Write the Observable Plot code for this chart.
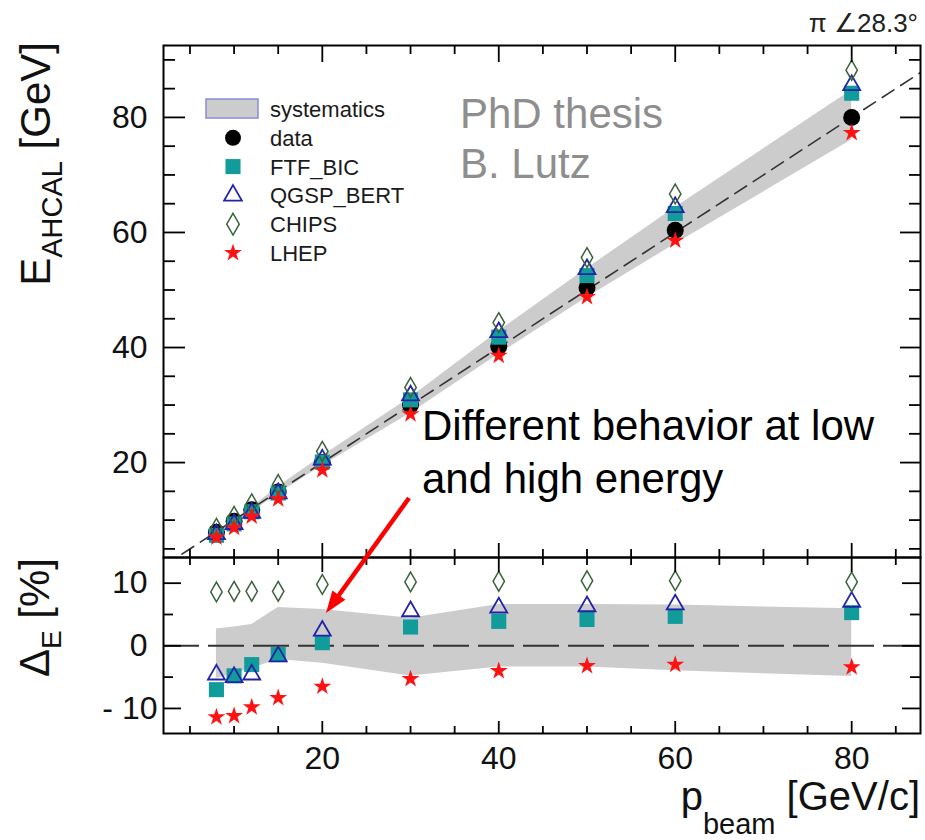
<!DOCTYPE html>
<html><head><meta charset="utf-8">
<script src="https://cdn.jsdelivr.net/npm/d3@7"></script>
<script src="https://cdn.jsdelivr.net/npm/@observablehq/plot@0.6"></script>
<style>
body{margin:0;background:#fff;}
#wrap{position:relative;width:925px;height:840px;overflow:hidden;}
#wrap > svg{position:absolute;left:0;}
</style></head><body><div id="wrap"></div>
<script>
// ---------- data ----------
const pbeam   = [8, 10, 12, 15, 20, 30, 40, 50, 60, 80];
// upper panel: E_AHCAL [GeV]
const eData   = [7.9, 9.8, 11.8, 14.9, 20.0, 30.0, 40.2, 50.4, 60.4, 80.0];
const eFTF    = [7.35, 9.33, 11.45, 14.7, 20.1, 30.9, 41.8, 52.5, 63.3, 84.2];
const eQGSP   = [7.54, 9.31, 11.26, 14.65, 20.5, 31.65, 42.65, 53.6, 64.4, 85.6];
const eCHIPS  = [8.58, 10.65, 12.83, 16.2, 21.96, 33.06, 44.34, 55.64, 66.7, 88.2];
const eLHEP   = [7.0, 8.7, 10.64, 13.66, 18.7, 28.4, 38.6, 48.8, 58.6, 77.3];
const sysHiE  = [8.11, 10.09, 12.2, 15.81, 21.16, 31.32, 42.85, 53.73, 64.33, 84.72];
const sysLoE  = [7.49, 9.36, 11.38, 14.57, 19.44, 28.56, 38.83, 48.69, 57.98, 76.08];
// lower panel: Delta_E [%]
const dFTF    = [-7.0, -4.8, -3.0, -1.4, 0.5, 3.0, 3.9, 4.2, 4.7, 5.3];
const dQGSP   = [-4.6, -5.0, -4.6, -1.7, 2.4, 5.5, 6.1, 6.3, 6.6, 7.0];
const dCHIPS  = [8.6, 8.7, 8.7, 8.7, 9.8, 10.2, 10.3, 10.4, 10.4, 10.2];
const dLHEP   = [-11.4, -11.2, -9.8, -8.3, -6.5, -5.3, -4.0, -3.2, -3.0, -3.4];
const sysUp   = [2.7, 3.0, 3.4, 6.1, 5.8, 4.4, 6.6, 6.6, 6.5, 5.9];
const sysDown = [-5.2, -4.5, -3.6, -2.2, -2.8, -4.8, -3.4, -3.4, -4.0, -4.9];
// axes
const xRange  = [2, 87.8];
const eRange  = [3.5, 92.5];
const dRange  = [-14, 14.1];
const xTicks  = [20, 40, 60, 80];
const xMinor  = [5, 10, 15, 25, 30, 35, 45, 50, 55, 65, 70, 75, 85];
const eTicks  = [20, 40, 60, 80];
const eMinor  = [5, 10, 15, 25, 30, 35, 45, 50, 55, 65, 70, 75, 85, 90];
const dTicks  = [-10, 0, 10];
const dMinor  = [-5, 5];
const legendLabels = ["systematics", "data", "FTF_BIC", "QGSP_BERT", "CHIPS", "LHEP"];

// ---------- build ----------
const font = '"Liberation Sans", Arial, Helvetica, sans-serif';
const wrap = document.getElementById("wrap");
const plotStyle = {fontFamily: font, fontSize: "32px", color: "#111", background: "transparent", overflow: "visible"};
const C = {ftf: "#129b9b", qgsp: "#2323a8", chips: "#3a633a", lhep: "#ff1212", band: "#cccccc"};
const SZ = {circle: 8.5, square: 8.5, triangle: 6.3, diamond: 6, star: 5.6};

const rows = pbeam.map((p, i) => ({
  p, data: eData[i], ftf: eFTF[i], qgsp: eQGSP[i], chips: eCHIPS[i], lhep: eLHEP[i],
  hi: sysHiE[i], lo: sysLoE[i],
  dftf: dFTF[i], dqgsp: dQGSP[i], dchips: dCHIPS[i], dlhep: dLHEP[i], up: sysUp[i], down: sysDown[i]
}));

function markers(k) {
  const m = [];
  if (k.data) m.push(Plot.dot(rows, {x: "p", y: k.data, symbol: "circle", r: SZ.circle, fill: "#000"}));
  m.push(Plot.dot(rows, {x: "p", y: k.ftf, symbol: "square", r: SZ.square, fill: C.ftf}));
  m.push(Plot.dot(rows, {x: "p", y: k.qgsp, symbol: "triangle", r: SZ.triangle, fill: "none", stroke: C.qgsp, strokeWidth: 1.8}));
  m.push(Plot.dot(rows, {x: "p", y: k.chips, symbol: "diamond", r: SZ.diamond, fill: "none", stroke: C.chips, strokeWidth: 1.5}));
  m.push(Plot.dot(rows, {x: "p", y: k.lhep, symbol: "star", r: SZ.star, fill: C.lhep}));
  return m;
}

function frameTicks(xMaj, xMin, yMaj, yMin, W, H, t) {
  const st = {stroke: "#000", strokeWidth: 1.8};
  return [
    Plot.tickX(xMaj, {x: d => d, insetBottom: H - t.xTop[0], ...st}),
    Plot.tickX(xMin, {x: d => d, insetBottom: H - t.xTop[1], ...st}),
    Plot.tickX(xMaj, {x: d => d, insetTop: H - t.xBot[0], ...st}),
    Plot.tickX(xMin, {x: d => d, insetTop: H - t.xBot[1], ...st}),
    Plot.tickY(yMaj, {y: d => d, insetRight: W - t.yL[0], ...st}),
    Plot.tickY(yMin, {y: d => d, insetRight: W - t.yL[1], ...st}),
    Plot.tickY(yMaj, {y: d => d, insetLeft: W - t.yR[0], ...st}),
    Plot.tickY(yMin, {y: d => d, insetLeft: W - t.yR[1], ...st})
  ];
}

const PW = 925 - 163 - 5;

const plotTop = Plot.plot({
  width: 925, height: 557, marginTop: 45, marginBottom: 0, marginLeft: 163, marginRight: 5,
  style: plotStyle,
  x: {domain: xRange, axis: null},
  y: {domain: eRange, ticks: eTicks, tickSize: 0, tickPadding: 16, label: null},
  marks: [
    Plot.areaY(rows, {x: "p", y1: "lo", y2: "hi", fill: C.band}),
    Plot.line(xRange.map(v => ({v})), {x: "v", y: "v", stroke: "#333", strokeWidth: 1.6, strokeDasharray: "14,8", clip: true}),
    ...markers({data: "data", ftf: "ftf", qgsp: "qgsp", chips: "chips", lhep: "lhep"}),
    ...frameTicks(xTicks, xMinor, eTicks, eMinor, PW, 512, {xTop: [17, 9], xBot: [14, 8], yL: [22, 12], yR: [20, 11]}),
    Plot.frame({stroke: "#000", strokeWidth: 2})
  ]
});
plotTop.style.top = "0px";
wrap.appendChild(plotTop);

const fmtD = d => d < 0 ? "- " + (-d) : String(d);
const plotBottom = Plot.plot({
  width: 925, height: 283, marginTop: 0, marginBottom: 107, marginLeft: 163, marginRight: 5,
  style: plotStyle,
  x: {domain: xRange, ticks: xTicks, tickSize: 0, tickPadding: 13, label: null},
  y: {domain: dRange, axis: null},
  marks: [
    Plot.areaY(rows, {x: "p", y1: "down", y2: "up", fill: C.band}),
    Plot.ruleY([0], {stroke: "#333", strokeWidth: 2, strokeDasharray: "36,9"}),
    ...markers({ftf: "dftf", qgsp: "dqgsp", chips: "dchips", lhep: "dlhep"}),
    ...frameTicks(xTicks, xMinor, dTicks, dMinor, PW, 176, {xTop: [15, 8], xBot: [12, 7], yL: [18, 10], yR: [18, 10]}),
    Plot.text(dTicks.filter(d => d >= 0), {y: d => d, text: fmtD, frameAnchor: "left", textAnchor: "end", dx: -16, fontSize: 32, fill: "#111"}),
    Plot.text(dTicks.filter(d => d < 0), {y: d => d, text: fmtD, frameAnchor: "left", textAnchor: "end", dx: -6, fontSize: 32, fill: "#111"}),
    Plot.frame({stroke: "#000", strokeWidth: 2})
  ]
});
plotBottom.style.top = "557px";
wrap.appendChild(plotBottom);

// ---------- overlay: titles, legend, annotation ----------
const ov = d3.select(wrap).append("svg")
  .attr("width", 925).attr("height", 840)
  .style("top", "0px").style("pointer-events", "none")
  .attr("font-family", font);

// y title upper
const yt = ov.append("text").attr("transform", "translate(50,42) rotate(-90)")
  .attr("text-anchor", "end").attr("font-size", 42).attr("fill", "#111");
yt.append("tspan").text("E");
yt.append("tspan").attr("font-size", 29).attr("dy", 12).text("AHCAL");
yt.append("tspan").attr("dy", -12).text(" [GeV]");

// y title lower
const yt2 = ov.append("text").attr("transform", "translate(49,558) rotate(-90)")
  .attr("text-anchor", "end").attr("font-size", 42).attr("fill", "#111");
yt2.append("tspan").text("Δ");
yt2.append("tspan").attr("font-size", 28).attr("dy", 12).text("E");
yt2.append("tspan").attr("dy", -12).text(" [%]");

// x title
const xt = ov.append("text").attr("x", 920).attr("y", 810)
  .attr("text-anchor", "end").attr("font-size", 40).attr("fill", "#111");
xt.append("tspan").text("p");
xt.append("tspan").attr("font-size", 29).attr("dy", 24).text("beam");
xt.append("tspan").attr("dy", -24).text(" [GeV/c]");

// corner label
ov.append("text").attr("x", 918).attr("y", 32).attr("text-anchor", "end")
  .attr("font-size", 26).attr("fill", "#222").text("π ∠28.3°");

// PhD thesis
ov.append("text").attr("x", 460).attr("y", 128).attr("font-size", 42).attr("fill", "#8e8e8e").text("PhD thesis");
ov.append("text").attr("x", 460).attr("y", 178).attr("font-size", 42).attr("fill", "#8e8e8e").text("B. Lutz");

// legend
const lg = ov.append("g");
const rowY = i => 109 + i * 28.8;
lg.append("rect").attr("x", 206).attr("y", 99).attr("width", 52).attr("height", 19)
  .attr("fill", C.band).attr("stroke", "#8a8ad8").attr("stroke-width", 1.5);
const legSyms = [
  null,
  {t: d3.symbolCircle, r: 8, fill: "#000", stroke: "none"},
  {t: d3.symbolSquare, r: SZ.square, fill: C.ftf, stroke: "none"},
  {t: d3.symbolTriangle, r: 6.6, fill: "none", stroke: C.qgsp, sw: 1.8},
  {t: d3.symbolDiamond, r: 6.6, fill: "none", stroke: C.chips, sw: 1.5},
  {t: d3.symbolStar, r: 5.6, fill: C.lhep, stroke: "none"}
];
legendLabels.forEach((lab, i) => {
  const s = legSyms[i];
  if (s) {
    lg.append("path").attr("transform", `translate(233,${rowY(i)})`)
      .attr("d", d3.symbol(s.t, Math.PI * s.r * s.r)())
      .attr("fill", s.fill).attr("stroke", s.stroke).attr("stroke-width", s.sw || 0);
  }
  lg.append("text").attr("x", 270).attr("y", rowY(i) + 8).attr("font-size", 22)
    .attr("fill", "#1a1a1a").text(lab);
});

// annotation
ov.append("text").attr("x", 422).attr("y", 440).attr("font-size", 42).attr("fill", "#000").text("Different behavior at low");
ov.append("text").attr("x", 422).attr("y", 493).attr("font-size", 42).attr("fill", "#000").text("and high energy");

// arrow
const a0 = [409, 498], a1 = [326, 613];
const adx = a1[0] - a0[0], ady = a1[1] - a0[1], aL = Math.hypot(adx, ady);
const ux = adx / aL, uy = ady / aL, hl = 22, hw = 8;
const bx = a1[0] - ux * hl, by = a1[1] - uy * hl;
ov.append("line").attr("x1", a0[0]).attr("y1", a0[1]).attr("x2", bx + ux * 2).attr("y2", by + uy * 2)
  .attr("stroke", "#ff0000").attr("stroke-width", 4.5);
ov.append("path").attr("d", `M${a1[0]},${a1[1]}L${bx - uy * hw},${by + ux * hw}L${bx + uy * hw},${by - ux * hw}Z`)
  .attr("fill", "#ff0000");
</script></body></html>
